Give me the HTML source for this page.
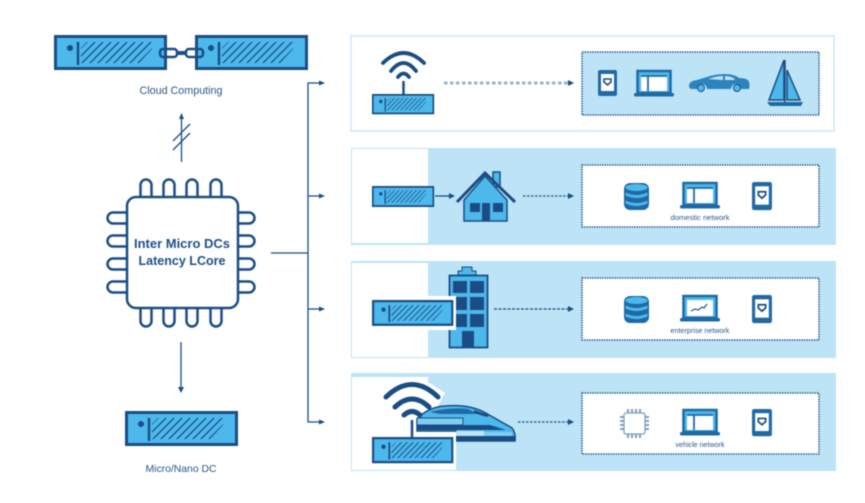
<!DOCTYPE html>
<html><head><meta charset="utf-8"><style>
html,body{margin:0;padding:0;background:#fff;width:865px;height:503px;overflow:hidden}
svg{display:block;filter:blur(.45px)}
text{font-family:"Liberation Sans",sans-serif;fill:#2a5688;text-anchor:middle}
</style></head><body>
<svg width="865" height="503" viewBox="0 0 865 503" xmlns="http://www.w3.org/2000/svg">
<defs>
<pattern id="h" patternUnits="userSpaceOnUse" width="8" height="8">
<path d="M-1 9L9 -1M-1 1L1 -1M7 9L9 7" stroke="#1a4d84" stroke-width="1.300"/>
</pattern>
<g id="srv">
<rect x="1.500" y="1.500" width="110" height="32" fill="#4cb8ec" stroke="#1a4d84" stroke-width="3"/>
<circle cx="16" cy="13" r="3" fill="#1a4d84"/>
<path d="M24 7V30" stroke="#1a4d84" stroke-width="2.400"/>
<path d="M27 28V13L33 7H98V14L85 28Z" fill="url(#h)"/>
</g>
<g id="phone">
<rect x="0" y="0" width="19" height="26" rx="2" fill="#1f6aa5"/>
<rect x="3" y="4" width="13" height="17" fill="#fff"/>
<path d="M6 9h7v3l-3.500 3l-3.500-3z" fill="none" stroke="#1a4d84" stroke-width="1.600"/>
</g>
<g id="laptop">
<rect x="3.500" y="1" width="33" height="22" fill="#4cb8ec" stroke="#1f6aa5" stroke-width="2.500"/>
<rect x="7" y="6" width="26" height="15" fill="#fff"/>
<path d="M7 6h26M14 6v15" stroke="#1f6aa5" stroke-width="1.800"/>
<rect x="0" y="23" width="40" height="3.500" rx="1.500" fill="#1f6aa5"/>
</g>
<g id="laptop2">
<rect x="3.500" y="1" width="33" height="22" fill="#4cb8ec" stroke="#1f6aa5" stroke-width="2.500"/>
<rect x="7" y="5" width="26" height="16" fill="#fff"/>
<path d="M11 16l4-2 3 1 4-3 2 1 3-4" fill="none" stroke="#1a4d84" stroke-width="1.100"/>
<rect x="0" y="23" width="40" height="3.500" rx="1.500" fill="#1f6aa5"/>
</g>
<g id="db">
<rect x="0" y="1" width="25" height="27" rx="6" fill="#1f6aa5"/>
<ellipse cx="12.500" cy="5.500" rx="11" ry="3.500" fill="#4cb8ec"/>
<path d="M1.500 10.500q11 5 22 0v3q-11 5-22 0zM1.500 18.500q11 5 22 0v3q-11 5-22 0z" fill="#4cb8ec"/>
</g>
</defs>

<!-- top left servers -->
<use href="#srv" x="54" y="35"/>
<use href="#srv" x="195" y="35"/>
<g fill="none" stroke="#1a4d84" stroke-width="2.500">
<rect x="160" y="49" width="17" height="8" rx="3"/>
<rect x="186" y="49" width="17" height="8" rx="3"/>
<path d="M177 53H186" stroke-width="4"/>
</g>
<text x="181" y="94" font-size="11" textLength="83" lengthAdjust="spacingAndGlyphs">Cloud Computing</text>

<!-- up arrow -->
<g stroke="#1a4d84" stroke-width="1.300" fill="none">
<path d="M181.500 162V116M173 141L190 124M173 150L190 133"/>
</g>
<path d="M181.500 113l-2.500 6h5z" fill="#1a4d84"/>

<!-- chip -->
<g fill="#fff" stroke="#1a4d84" stroke-width="2.500">
<path d="M140.500 198v-13a5 5 0 0 1 11 0v13M163.500 198v-13a5 5 0 0 1 11 0v13M186.500 198v-13a5 5 0 0 1 11 0v13M210.500 198v-13a5 5 0 0 1 11 0v13"/>
<path d="M140.500 307v14a5 5 0 0 0 11 0v-14M163.500 307v14a5 5 0 0 0 11 0v-14M186.500 307v14a5 5 0 0 0 11 0v-14M210.500 307v14a5 5 0 0 0 11 0v-14"/>
<path d="M128 212.500h-15a5 5 0 0 0 0 11h15M128 235.500h-15a5 5 0 0 0 0 11h15M128 258.500h-15a5 5 0 0 0 0 11h15M128 281.500h-15a5 5 0 0 0 0 11h15"/>
<path d="M237 212.500h12a5 5 0 0 1 0 11h-12M237 235.500h12a5 5 0 0 1 0 11h-12M237 258.500h12a5 5 0 0 1 0 11h-12M237 281.500h12a5 5 0 0 1 0 11h-12"/>
<rect x="127" y="197" width="111" height="111" rx="9"/>
</g>
<text x="182" y="248" font-size="13" font-weight="bold" textLength="96" lengthAdjust="spacingAndGlyphs" style="fill:#1f5088">Inter Micro DCs</text>
<text x="182" y="265" font-size="13" font-weight="bold" textLength="87" lengthAdjust="spacingAndGlyphs" style="fill:#1f5088">Latency LCore</text>

<!-- down arrow + micro DC -->
<path d="M181 342V390" stroke="#1a4d84" stroke-width="1.300"/>
<path d="M181 393l-3-6h6z" fill="#1a4d84"/>
<use href="#srv" x="125" y="411"/>
<text x="181" y="472" font-size="10.500" textLength="71" lengthAdjust="spacingAndGlyphs">Micro/Nano DC</text>

<!-- trunk -->
<path d="M271 253H308M323 83H308V422H323M308 196H323M308 309H323" fill="none" stroke="#1a4d84" stroke-width="1.300"/>
<path d="M325 83l-6-2.500v5zM325 196l-6-2.500v5zM325 309l-6-2.500v5zM325 422l-6-2.500v5z" fill="#1a4d84"/>

<!-- panel 1 -->
<rect x="351" y="36" width="483" height="95" fill="#fff" stroke="#d5ecf5" stroke-width="1.800"/>
<rect x="582" y="52" width="237" height="63" fill="#bde4f6" stroke="#2a5c8c" stroke-width="1.500" stroke-dasharray="1.500 1"/>
<use href="#srv" transform="translate(372 94) scale(.55 .58)"/>
<path d="M403.500 94V81" stroke="#1a4d84" stroke-width="2.500"/>
<g fill="none" stroke="#1a4d84" stroke-linecap="round" stroke-width="3.800">
<path d="M383 63Q403.500 43 424 63"/>
<path d="M391 71Q403.500 55 416 71"/>
<path d="M398 77Q403.500 70 409 77"/>
</g>
<path d="M444 83H570" stroke="#9fb3c6" stroke-width="3" stroke-dasharray="3.500 2.500"/>
<path d="M574 83l-6-3v6z" fill="#1a4d84"/>
<use href="#phone" x="598" y="70"/>
<use href="#laptop" x="634" y="70"/>
<path d="M689 86q0-5 8-6l10-3q8-3 18-3 9 0 14 4 9 0 10 4 1 3 0 7h-8a5 5 0 0 0-10 0h-24a5 5 0 0 0-10 0h-6q-2-1-2-3z" fill="#2d83bd"/>
<circle cx="701" cy="88" r="3.500" fill="#4cb8ec" stroke="#1a4d84"/><circle cx="737" cy="88" r="3.500" fill="#4cb8ec" stroke="#1a4d84"/>
<path d="M708 79q8-3 15-3v4zM725 76q6 0 10 3l-1 1h-9z" fill="#bde4f6"/>
<path d="M784 60V100H769Z" fill="#4cb8ec" stroke="#1a4d84" stroke-width="1.500"/>
<path d="M787 70V100H800Z" fill="#4cb8ec" stroke="#1a4d84" stroke-width="1.500"/>
<path d="M785 60V104" stroke="#1a4d84" stroke-width="1.500"/>
<path d="M767 102H803L801 106H770Z" fill="#1f6aa5"/>

<!-- panel 2 -->
<rect x="351" y="148" width="485" height="97" fill="#bde4f6"/>
<rect x="352" y="149" width="76" height="94" fill="#fff"/>
<rect x="582" y="165" width="237" height="62" fill="#fff" stroke="#2a5c8c" stroke-width="1.500" stroke-dasharray="1.500 1"/>
<use href="#srv" transform="translate(372 186) scale(.55 .6)"/>
<path d="M435 196H451" stroke="#1a4d84" stroke-width="1.300"/><path d="M455 196l-6-3v6z" fill="#1a4d84"/>
<path d="M493 172H500V187H493Z" fill="#4cb8ec" stroke="#1a4d84" stroke-width="1.500"/>
<path d="M464 200L485 176L507 200V221H464Z" fill="#4cb8ec" stroke="#1a4d84" stroke-width="1.500"/>
<path d="M457 202L485 173L515 202" fill="none" stroke="#1a4d84" stroke-width="3"/>
<path d="M470 203h10v9h-10zM493 203h10v9h-10zM482 203h8v18h-8z" fill="#1a4d84"/>
<path d="M523 196H570" stroke="#3a6a96" stroke-width="1.500" stroke-dasharray="2.500 1.500"/><path d="M574 196l-6-3v6z" fill="#1a4d84"/>
<use href="#db" x="624" y="182"/>
<use href="#laptop" x="680" y="182"/>
<use href="#phone" transform="translate(752 182) scale(1.050 1.080)"/>
<text x="700" y="220" font-size="7" textLength="59" lengthAdjust="spacingAndGlyphs">domestic network</text>

<!-- panel 3 -->
<rect x="351" y="261" width="485" height="97" fill="#bde4f6"/>
<rect x="352" y="263" width="76" height="94" fill="#fff"/>
<rect x="582" y="278" width="237" height="62" fill="#fff" stroke="#2a5c8c" stroke-width="1.500" stroke-dasharray="1.500 1"/>
<path d="M462 267h10v4h4v4h-18v-4h4z" fill="#4cb8ec" stroke="#1a4d84"/>
<rect x="449.500" y="275.500" width="38" height="72" fill="#4cb8ec" stroke="#1a4d84" stroke-width="1.800"/>
<path d="M453 281h14v12h-14zM470 281h14v12h-14zM453 297h14v13h-14zM470 297h14v13h-14zM453 314h14v13h-14zM470 314h14v13h-14zM462 331h12v17h-12z" fill="#1a4d84"/>
<rect x="372" y="296" width="84" height="34" fill="#fff"/>
<use href="#srv" transform="translate(372 300) scale(.72 .74)"/>
<path d="M494 309H570" stroke="#1a4d84" stroke-width="1.300" stroke-dasharray="3 1.500"/><path d="M574 309l-6-3v6z" fill="#1a4d84"/>
<use href="#db" x="624" y="295"/>
<use href="#laptop2" x="680" y="295"/>
<use href="#phone" transform="translate(752 295) scale(1.050 1.080)"/>
<text x="700" y="333" font-size="7" textLength="59" lengthAdjust="spacingAndGlyphs">enterprise network</text>

<!-- panel 4 -->
<rect x="351" y="373" width="485" height="98" fill="#bde4f6"/>
<rect x="352" y="377" width="76" height="93" fill="#fff"/>
<path d="M420 377L445 393L425 430H420Z" fill="#fff"/>
<path d="M417 419Q428 407 445 406Q468 404 484 412L512 428Q516 433 515 441H456V431H417Z" fill="#4cb8ec" stroke="#1a4d84" stroke-width="1.500"/>
<path d="M430 412Q450 407 468 409L478 414H440Z" fill="#1f6aa5"/>
<path d="M417 418H463V425H417Z" fill="#7fcdf0" stroke="#1a4d84"/>
<path d="M417 425H490L506 430H417Z" fill="#1a4d84"/>
<path d="M474 410L490 415L487 417L474 413Z" fill="#1a4d84"/>
<path d="M456 431H484V437H456Z" fill="#bde4f6"/>
<path d="M484 432H512V436H484Z" fill="#7fcdf0"/>
<path d="M456 436H515V441H456Z" fill="#1a4d84"/>
<rect x="372" y="432" width="84" height="38" fill="#fff"/>
<use href="#srv" transform="translate(372 437) scale(.72 .75)"/>
<path d="M412 437V420" stroke="#1a4d84" stroke-width="2.500"/>
<g fill="none" stroke="#1a4d84" stroke-linecap="round" stroke-width="5">
<path d="M386 397Q412 372 438 397"/>
<path d="M395 407Q412 391 429 407"/>
<path d="M404 415Q412 408 420 415"/>
</g>
<path d="M518 422H570" stroke="#3a6a96" stroke-width="1.500" stroke-dasharray="2.500 1.500"/><path d="M574 422l-6-3v6z" fill="#1a4d84"/>
<rect x="582" y="393" width="237" height="61" fill="#fff" stroke="#2a5c8c" stroke-width="1.500" stroke-dasharray="1.500 1"/>
<rect x="624" y="413" width="21" height="21" rx="2" fill="#fff" stroke="#7f9fb8" stroke-width="1.300"/>
<path d="M628 409v4M632 409v4M636 409v4M640 409v4M628 434v4M632 434v4M636 434v4M640 434v4M620 417h4M620 421h4M620 425h4M620 429h4M645 417h4M645 421h4M645 425h4M645 429h4" stroke="#7f9fb8" stroke-width="2"/>
<use href="#laptop" x="680" y="409"/>
<use href="#phone" transform="translate(752 409) scale(1.050 1.050)"/>
<text x="700" y="447" font-size="7" textLength="49" lengthAdjust="spacingAndGlyphs">vehicle network</text>
</svg>
</body></html>
